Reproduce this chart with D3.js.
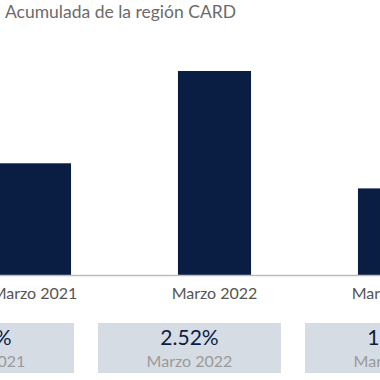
<!DOCTYPE html>
<html>
<head>
<meta charset="utf-8">
<script src="https://cdn.jsdelivr.net/npm/d3@7"></script>
<style>
  html, body { margin: 0; padding: 0; background: #ffffff; overflow: hidden; }
  svg { display: block; }
</style>
</head>
<body>
<svg id="chart" width="380" height="380"></svg>
<script>
const title = "Acumulada de la región CARD";
const categories = ["Marzo 2021", "Marzo 2022", "Marzo 2023"];
const values = [1.38, 2.52, 1.07];
const valueLabels = ["1.38%", "2.52%", "1.07%"];

const svg = d3.select("#chart");
const W = 380, H = 380;
const fontFamily = "Lato, 'Open Sans', sans-serif";

svg.append("text")
  .attr("x", 5).attr("y", 18)
  .attr("font-family", fontFamily)
  .attr("font-size", 17.5)
  .attr("fill", "#6b6b6b")
  .text(title);

const x = d3.scaleBand()
  .domain(categories)
  .range([-55.5, 484.5])
  .paddingInner(0.594)
  .paddingOuter(0.297);

const y = d3.scaleLinear()
  .domain([0, 3])
  .range([275, 275 - 3 * 80.95]);

svg.append("g")
  .selectAll("rect")
  .data(categories)
  .join("rect")
  .attr("x", d => x(d))
  .attr("width", x.bandwidth())
  .attr("y", (d, i) => y(values[i]))
  .attr("height", (d, i) => y(0) - y(values[i]))
  .attr("fill", "#0a1e44");

const axis = d3.axisBottom(x).tickSize(0).tickPadding(13);
const gAxis = svg.append("g")
  .attr("transform", `translate(0,${y(0)})`)
  .call(axis);
gAxis.select(".domain")
  .attr("d", `M0,0.5H${W}`)
  .attr("stroke", "#bdbdbd")
  .attr("stroke-width", 1.5);
gAxis.selectAll("text")
  .attr("font-family", fontFamily)
  .attr("font-size", 16)
  .attr("fill", "#555555");

const xb = d3.scaleBand()
  .domain(categories)
  .range([-121, 500])
  .paddingInner(0.116)
  .paddingOuter(0.058);

const boxes = svg.append("g")
  .selectAll("g")
  .data(categories)
  .join("g")
  .attr("transform", d => `translate(${xb(d)},323)`);

boxes.append("rect")
  .attr("width", xb.bandwidth())
  .attr("height", 50)
  .attr("fill", "#d6dce4");

boxes.append("text")
  .attr("x", xb.bandwidth() / 2)
  .attr("y", 22)
  .attr("text-anchor", "middle")
  .attr("font-family", fontFamily)
  .attr("font-size", 21)
  .attr("fill", "#0a1e44")
  .text((d, i) => valueLabels[i]);

boxes.append("text")
  .attr("x", xb.bandwidth() / 2)
  .attr("y", 44)
  .attr("text-anchor", "middle")
  .attr("font-family", fontFamily)
  .attr("font-size", 16)
  .attr("fill", "#9a9a9a")
  .text(d => d);
</script>
</body>
</html>
